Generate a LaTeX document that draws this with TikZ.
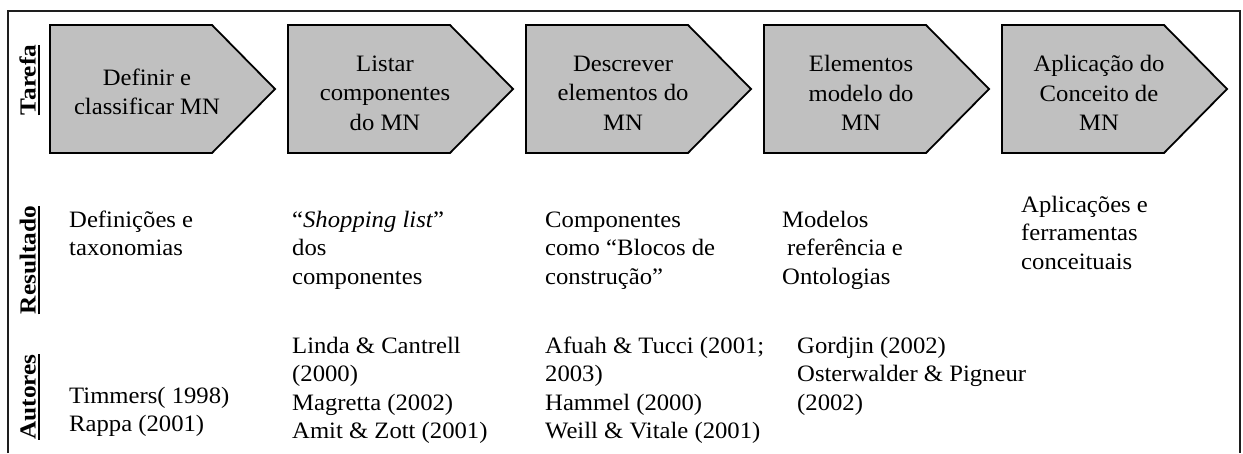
\documentclass[tikz,border=0pt]{standalone}
\usepackage{fontspec}
\setmainfont{Liberation Serif}[FakeStretch=1.05]
\newfontfamily\rowlabelfont{Liberation Serif}[FakeStretch=1.1]
\usetikzlibrary{calc}
\definecolor{boxgray}{HTML}{C0C0C0}
\definecolor{framecol}{HTML}{1E1E1E}
% stack of left-aligned lines, baseline = first line
\newcommand{\leftrows}[1]{\vtop{\halign{##\hfil\cr#1\crcr}}}
\tikzset{
  stepshape/.style={draw=black, line width=1.8pt, fill=boxgray, line join=miter},
  steptext/.style={font=\fontsize{23.5}{29.5}\selectfont, align=center, inner sep=0pt},
  bodytext/.style={font=\fontsize{23.5}{28.5}\selectfont, inner sep=0pt, anchor=base west},
  rowlabel/.style={font=\rowlabelfont\bfseries\fontsize{23}{25}\selectfont, inner sep=0pt, rotate=90, anchor=base},
  labelrule/.style={line width=1.7pt},
  framerule/.style={draw=framecol, line width=2pt}
}
\begin{document}
\begin{tikzpicture}[x=1pt, y=-1pt]
\useasboundingbox (0,0) rectangle (1243,453);

% open frame round the table
\draw[framerule] (8,453) -- (8,11) -- (1240,11) -- (1240,453);

% process steps (arrow-shaped boxes)
\foreach \i in {0,...,4}{
  \pgfmathsetmacro{\L}{50+238*\i}
  \draw[stepshape] (\L,25) -- (\L+162,25) -- (\L+225,89) -- (\L+162,153) -- (\L,153) -- cycle;
}
\node[steptext] (s1) at (147,92)  {Definir e\\classificar MN};
\node[steptext] (s2) at (385,93)  {Listar\\componentes\\do MN};
\node[steptext] (s3) at (623,93)  {Descrever\\elementos do\\MN};
\node[steptext] (s4) at (861,93)  {Elementos\\modelo do\\MN};
\node[steptext] (s5) at (1099,93) {Aplicação do\\Conceito de\\MN};

% row labels
\node[rowlabel] (lt) at (35.5,80)  {Tarefa};
\node[rowlabel] (lr) at (35.5,260) {Resultado};
\node[rowlabel] (la) at (35.5,397) {Autores};
\foreach \n in {lt,lr,la}{
  \draw[labelrule] ([xshift=3.5pt]\n.base west) -- ([xshift=3.5pt]\n.base east);
}

% results
\node[bodytext] (r1) at (69,227)   {\leftrows{Definições e\cr taxonomias}};
\node[bodytext] (r2) at (292,227)  {\leftrows{“\textit{Shopping list}”\cr dos\cr componentes}};
\node[bodytext] (r3) at (545,227)  {\leftrows{Componentes\cr como “Blocos de\cr construção”}};
\node[bodytext] (r4) at (782,227)  {\leftrows{Modelos\cr \hspace{5pt}referência e\cr Ontologias}};
\node[bodytext] (r5) at (1021,212) {\leftrows{Aplicações e\cr ferramentas\cr conceituais}};

% authors
\node[bodytext] (a1) at (69,403)  {\leftrows{Timmers( 1998)\cr Rappa (2001)}};
\node[bodytext] (a2) at (292,353) {\leftrows{Linda \& Cantrell\cr (2000)\cr Magretta (2002)\cr Amit \& Zott (2001)}};
\node[bodytext] (a3) at (545,353) {\leftrows{Afuah \& Tucci (2001;\cr 2003)\cr Hammel (2000)\cr Weill \& Vitale (2001)}};
\node[bodytext] (a4) at (797,353) {\leftrows{Gordjin (2002)\cr Osterwalder \& Pigneur\cr (2002)}};
\end{tikzpicture}
\end{document}
